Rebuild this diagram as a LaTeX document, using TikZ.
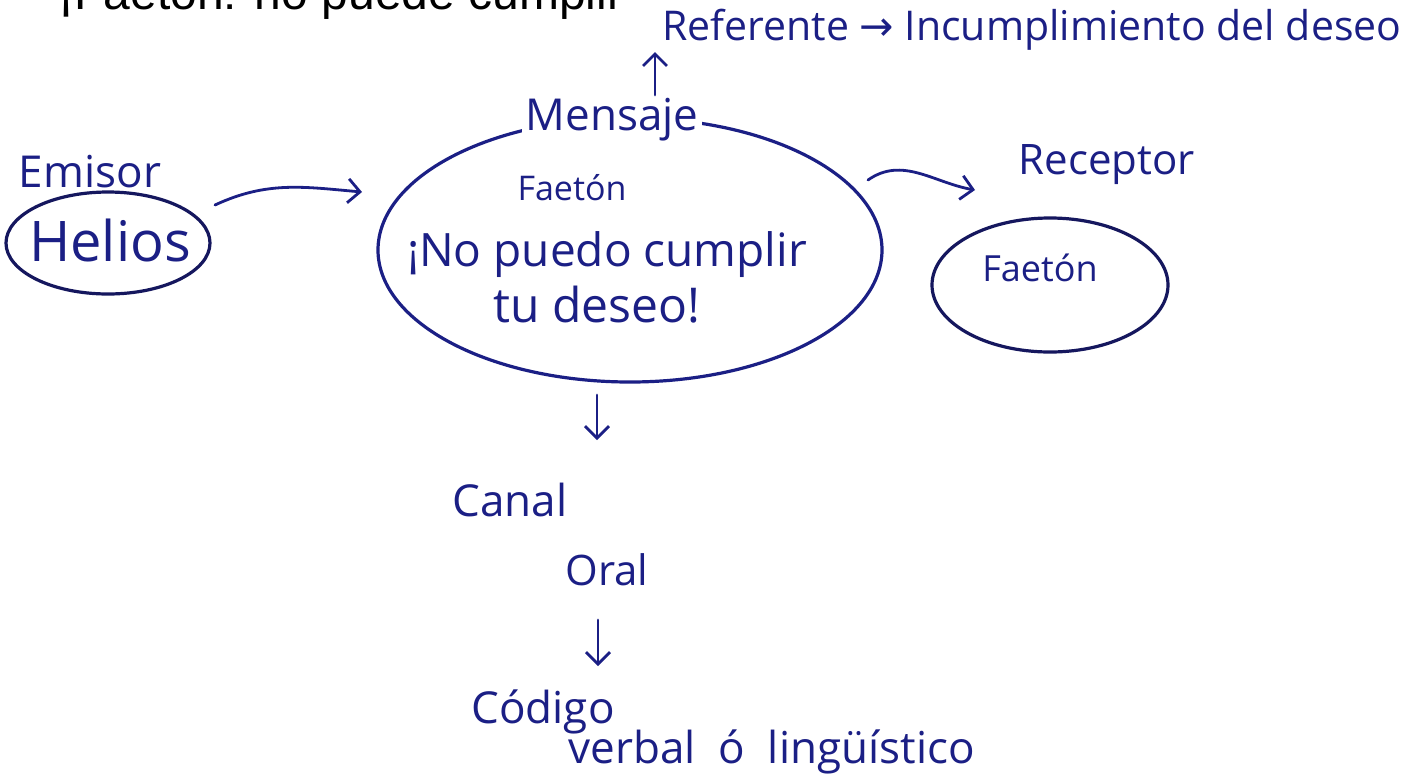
\documentclass[tikz,border=0pt]{standalone}
\usepackage{fontspec}
\setmainfont{Open Sans}
\newfontfamily\printfont{Liberation Sans}
\newfontfamily\symfont{DejaVu Sans}
\usetikzlibrary{shapes.geometric,arrows.meta}
\definecolor{ink}{HTML}{1B1F85}
\definecolor{inkdark}{HTML}{15175E}
\tikzset{
  hand/.style={text=ink, inner sep=0pt, font=\fontsize{22}{26}\selectfont},
  oval/.style={draw=inkdark, ellipse, line width=1.6pt, inner sep=0pt},
  conn/.style={draw=ink, line width=1.4pt, line cap=round, -{Straight Barb[length=6pt,width=12pt,line width=1.4pt]}},
}
\begin{document}
\begin{tikzpicture}[x=0.5pt,y=-0.5pt]
\useasboundingbox[fill=white] (0,0) rectangle (1410,783);
% cut-off printed line at the top
\node[anchor=base west, inner sep=0pt, font=\printfont\fontsize{24}{28}\selectfont, text=black] (top) at (58,9) {¡Faetón! no puede cumplir};
% emisor
\node[hand] (emisor) at (90,172) {Emisor};
\node[oval, minimum width=102pt, minimum height=51pt] (heliosov) at (108,243) {};
\node[hand, font=\fontsize{28}{30}\selectfont] (helios) at (110,240) {Helios};
% mensaje
\node[oval, draw=ink, minimum width=252pt, minimum height=132pt] (msgov) at (630,250) {};
\node[hand, font=\fontsize{22}{26}\selectfont, fill=white, inner xsep=2pt] (mensaje) at (612,120) {Mensaje};
\node[hand, font=\fontsize{17}{20}\selectfont] (faeton1) at (572,188) {Faetón};
\node[hand, font=\fontsize{23}{26}\selectfont] (line1) at (607,255) {¡No puedo cumplir};
\node[hand, font=\fontsize{24}{28}\selectfont] (line2) at (597,305) {tu deseo!};
% referente
\coordinate (refbase) at (655,95);
\node[hand, anchor=base west, font=\fontsize{20.5}{24}\selectfont] (referente) at (662,40) {Referente {\symfont →} Incumplimiento del deseo};
% receptor
\node[hand, font=\fontsize{21}{24}\selectfont] (receptor) at (1107,165) {Receptor};
\node[oval, minimum width=118pt, minimum height=67pt] (recov) at (1050,285) {};
\node[hand, font=\fontsize{18}{20}\selectfont] (faeton2) at (1040,268) {Faetón};
% canal / codigo
\node[hand] (canal) at (510,500) {Canal};
\node[hand, font=\fontsize{21}{24}\selectfont] (oral) at (607,570) {Oral};
\node[hand] (codigo) at (543,712) {Código};
\node[hand, anchor=west] (verbal) at (568,752) {verbal~ ó~ lingüístico};
% connectors
\coordinate (a1s) at (215,205);
\coordinate (a1e) at (362,192);
\draw[conn] (a1s) to[out=25, in=175] (a1e);
\coordinate (a2s) at (868,180);
\coordinate (a2e) at (975,190);
\draw[conn] (a2s) to[out=35, in=170] (a2e);
\coordinate (a3e) at (655,52);
\draw[conn] (refbase) -- (a3e);
\coordinate (d1s) at (597,395);
\coordinate (d1e) at (597,440);
\draw[conn] (d1s) -- (d1e);
\coordinate (d2s) at (598,620);
\coordinate (d2e) at (598,666);
\draw[conn] (d2s) -- (d2e);
\end{tikzpicture}
\end{document}
